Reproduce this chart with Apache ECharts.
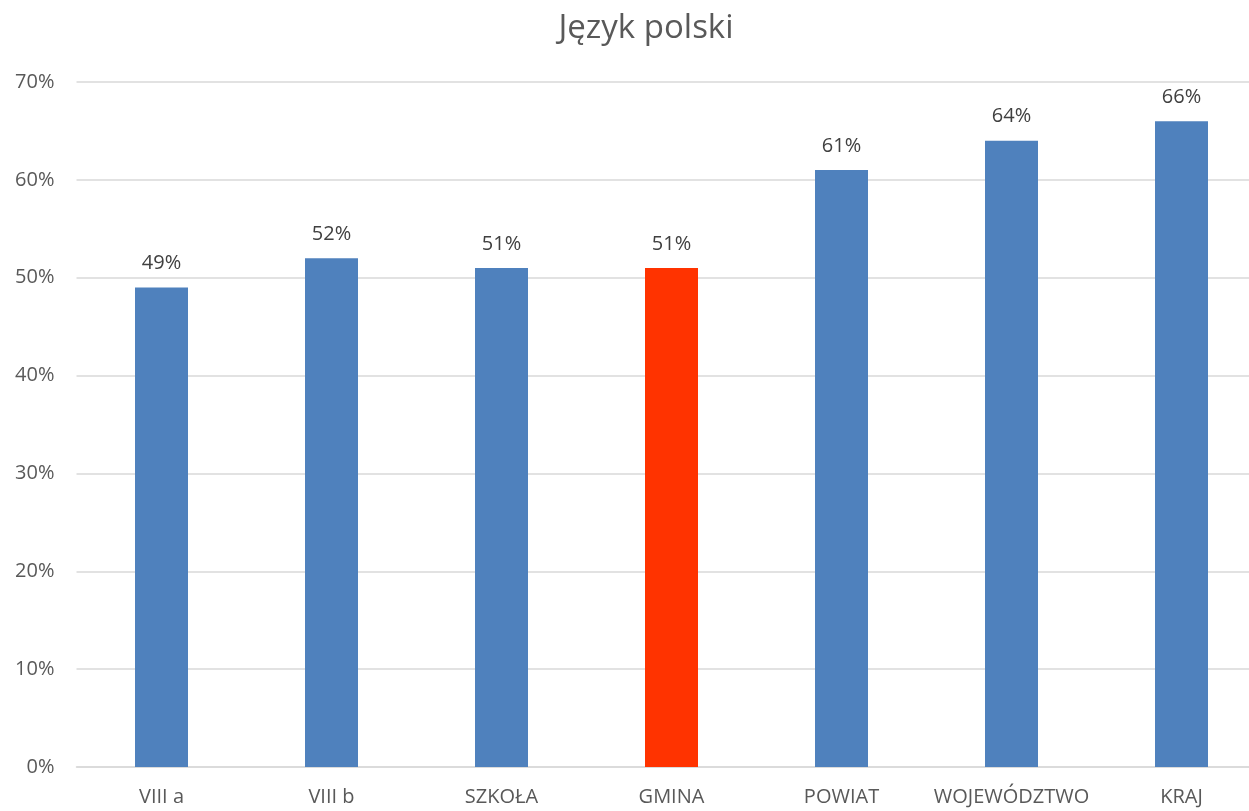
<!DOCTYPE html>
<html>
<head>
<meta charset="utf-8">
<script src="https://cdn.jsdelivr.net/npm/echarts@6/dist/echarts.min.js"></script>
<style>
  html, body { margin: 0; padding: 0; background: #fff; }
  #main { width: 1249px; height: 811px; }
</style>
</head>
<body>
<div id="main"></div>
<script>
// dane
var categories = ['VIII a', 'VIII b', 'SZKOŁA', 'GMINA', 'POWIAT', 'WOJEWÓDZTWO', 'KRAJ'];
var values = [49, 52, 51, 51, 61, 64, 66];
var highlight = 'GMINA';
var yTicks = [0, 10, 20, 30, 40, 50, 60, 70];

var myChart = echarts.init(document.getElementById('main'));

myChart.setOption({
    textStyle: { fontFamily: 'Open Sans' },
    title: {
        text: 'Język polski',
        left: 641,
        top: 7,
        textAlign: 'center',
        textStyle: { fontSize: 33, fontWeight: 'normal', color: '#595959', fontFamily: 'Open Sans' }
    },
    grid: { left: 76.5, width: 1190, top: 82, bottom: 44, outerBoundsMode: 'none', containLabel: false },
    xAxis: {
        type: 'category',
        data: categories,
        axisLine: { lineStyle: { color: '#D9D9D9', width: 1.5 } },
        axisTick: { show: false },
        axisLabel: { color: '#595959', fontSize: 20, margin: 20, interval: 0, hideOverlap: false }
    },
    yAxis: {
        type: 'value',
        min: yTicks[0],
        max: yTicks[yTicks.length - 1],
        interval: 10,
        axisLine: { show: false },
        axisTick: { show: false },
        splitLine: { lineStyle: { color: '#D9D9D9', width: 1.5 } },
        axisLabel: { color: '#595959', fontSize: 20, margin: 22, formatter: '{value}%' }
    },
    series: [{
        type: 'bar',
        barWidth: 53,
        data: values.map(function (v, i) {
            return {
                value: v,
                itemStyle: { color: categories[i] === highlight ? '#FF3300' : '#4F81BD' }
            };
        }),
        label: {
            show: true,
            position: 'top',
            distance: 14,
            color: '#404040',
            fontSize: 20,
            formatter: '{c}%'
        }
    }]
});
</script>
</body>
</html>
